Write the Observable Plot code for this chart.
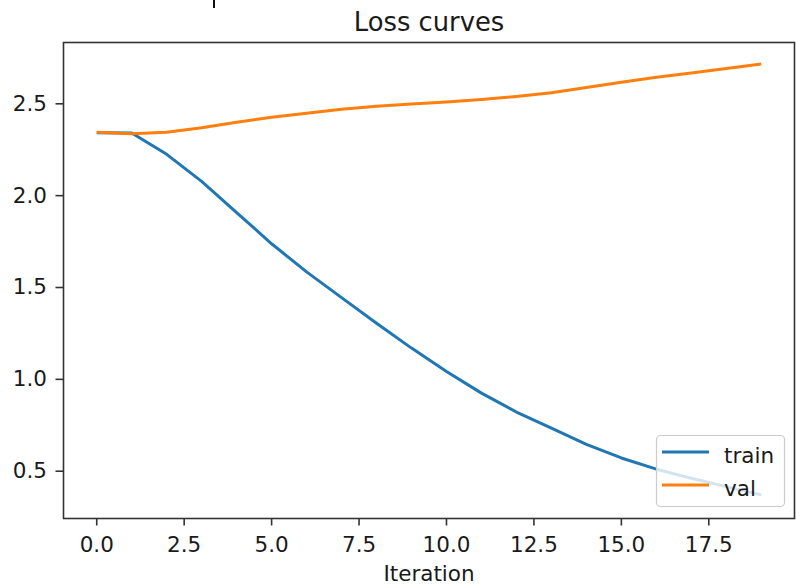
<!DOCTYPE html>
<html><head><meta charset="utf-8">
<script src="https://cdn.jsdelivr.net/npm/d3@7"></script>
<script src="https://cdn.jsdelivr.net/npm/@observablehq/plot@0.6"></script>
<style>
html,body{margin:0;padding:0;background:#fff;}
body{width:796px;height:585px;overflow:hidden;position:relative;font-family:"DejaVu Sans",sans-serif;}
#chart{position:absolute;left:0;top:0;}
#legend{position:absolute;left:0;top:0;pointer-events:none;}
#mark{position:absolute;left:213px;top:0;width:1.5px;height:8px;background:#111;}
</style>
</head><body>
<div id="chart"></div>
<svg id="legend" width="796" height="585"></svg>
<div id="mark"></div>
<script>
// ---- data ----
const iterations = [0,1,2,3,4,5,6,7,8,9,10,11,12,13,14,15,16,17,18,19];
const trainLoss = [2.343, 2.341, 2.225, 2.078, 1.908, 1.738, 1.585, 1.445, 1.305, 1.170, 1.043, 0.925, 0.822, 0.734, 0.646, 0.572, 0.511, 0.462, 0.416, 0.371];
const valLoss = [2.345, 2.337, 2.345, 2.370, 2.400, 2.427, 2.449, 2.470, 2.487, 2.499, 2.510, 2.523, 2.540, 2.560, 2.589, 2.617, 2.645, 2.668, 2.692, 2.717];
const seriesNames = ["train", "val"];
const seriesColors = ["#1f77b4", "#ff7f0e"];
const xTicks = [0, 2.5, 5, 7.5, 10, 12.5, 15, 17.5];
const yTicks = [0.5, 1.0, 1.5, 2.0, 2.5];
const titleText = "Loss curves";
const xLabel = "Iteration";

const seriesValues = [trainLoss, valLoss];
const rows = seriesNames.map((name, s) => iterations.map((it, i) => ({it, loss: seriesValues[s][i], series: name})));

const fmt = d3.format(".1f");
const plot = Plot.plot({
  width: 796, height: 585,
  marginLeft: 63, marginRight: 2, marginTop: 42, marginBottom: 67,
  style: {fontFamily: "DejaVu Sans", fontSize: "21.5px", color: "#1a1a1a", background: "#fff"},
  x: {domain: [-0.95, 19.95]},
  y: {domain: [0.2425, 2.8337]},
  marks: [
    Plot.axisX({ticks: xTicks, tickFormat: fmt, tickSize: 7.5, tickPadding: 11, label: null, strokeWidth: 1.6, stroke: "#333"}),
    Plot.axisY({ticks: yTicks, tickFormat: fmt, tickSize: 7.5, tickPadding: 9, label: null, strokeWidth: 1.6, stroke: "#333"}),
    ...rows.map((r, s) => Plot.line(r, {x: "it", y: "loss", stroke: seriesColors[s], strokeWidth: 3, strokeLinejoin: "round", strokeLinecap: "butt"})),
    Plot.frame({stroke: "#333", strokeWidth: 1.6}),
    Plot.text([titleText], {text: d => d, frameAnchor: "top", lineAnchor: "bottom", dy: -12, fontSize: 25.8, fill: "#1a1a1a"}),
    Plot.text([xLabel], {text: d => d, frameAnchor: "bottom", lineAnchor: "bottom", dy: 62, fontSize: 21.5, fill: "#1a1a1a"})
  ]
});
document.getElementById("chart").appendChild(plot);

// legend (lower right, matplotlib style)
const lg = d3.select("#legend");
lg.append("rect").attr("x", 656.5).attr("y", 435.5).attr("width", 128).attr("height", 71).attr("rx", 4)
  .attr("fill", "#fff").attr("fill-opacity", 0.8).attr("stroke", "#cccccc").attr("stroke-width", 1.2);
seriesNames.forEach((name, s) => {
  const cy = 452 + s * 33;
  lg.append("line").attr("x1", 662).attr("x2", 709).attr("y1", cy).attr("y2", cy)
    .attr("stroke", seriesColors[s]).attr("stroke-width", 3);
  lg.append("text").attr("x", 724).attr("y", cy + 11.3).attr("font-family", "DejaVu Sans")
    .attr("font-size", 21.5).attr("fill", "#1a1a1a").text(name);
});
</script>
</body></html>
